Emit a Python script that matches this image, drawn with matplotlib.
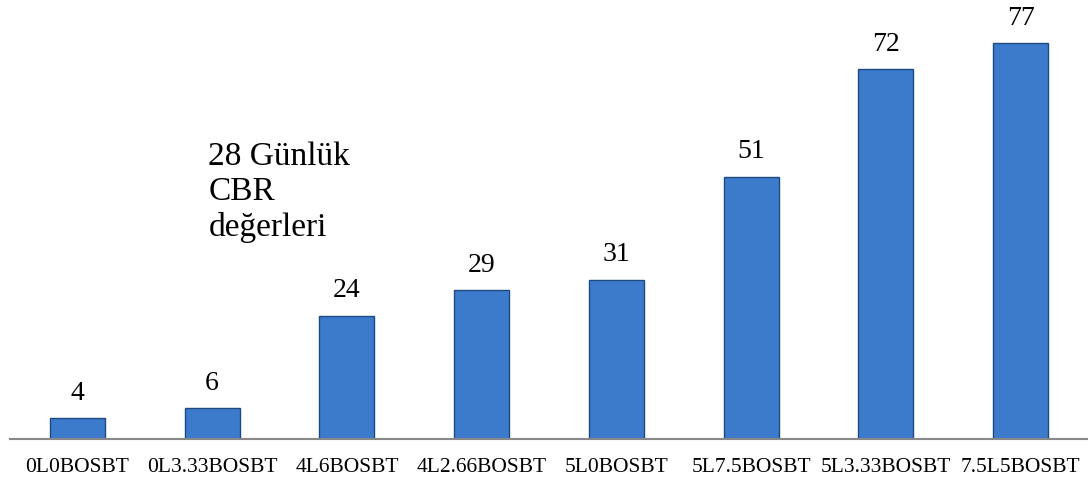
import numpy as np
import matplotlib.pyplot as plt

categories = ['0L0BOSBT', '0L3.33BOSBT', '4L6BOSBT', '4L2.66BOSBT',
              '5L0BOSBT', '5L7.5BOSBT', '5L3.33BOSBT', '7.5L5BOSBT']
values = [4, 6, 24, 29, 31, 51, 72, 77]
series_name = '28 Günlük\nCBR\ndeğerleri'

plt.rcParams['font.family'] = ['Liberation Serif', 'DejaVu Serif']

fig = plt.figure(figsize=(10.88, 4.82), dpi=100)
ax = fig.add_axes([10 / 1088, 1 - 439 / 482, 1078 / 1088, 439 / 482])

x = np.arange(len(categories))
bars = ax.bar(x, values, width=0.41, color='#3c7bcc', edgecolor='#1f4a80',
              linewidth=1.0, zorder=2)

# label each bar with its value
for xi, v in zip(x, values):
    ax.text(xi, v + 2.4, str(v), ha='center', va='bottom', fontsize=20)

ax.set_xlim(-0.5, len(categories) - 0.5)
ax.set_ylim(0, 85.4)
ax.set_xticks(x)
ax.set_xticklabels(categories, fontsize=15.5)
ax.tick_params(axis='x', length=0, pad=14)
ax.set_yticks([])

for side in ['top', 'right', 'left']:
    ax.spines[side].set_visible(False)
ax.spines['bottom'].set_color('#888888')
ax.spines['bottom'].set_linewidth(1.5)

ax.text(0.184, 0.677, series_name, transform=ax.transAxes, fontsize=24,
        ha='left', va='top', linespacing=1.2)

fig.savefig('out.png', dpi=100)
